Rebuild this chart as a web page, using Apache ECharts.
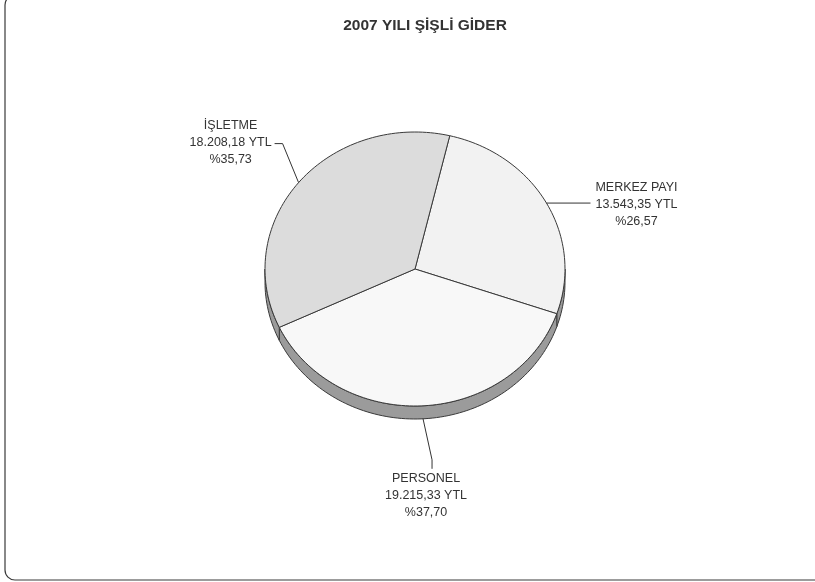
<!DOCTYPE html>
<html>
<head>
<meta charset="utf-8">
<script src="https://cdn.jsdelivr.net/npm/echarts@6/dist/echarts.min.js"></script>
<style>
  html, body { margin: 0; padding: 0; background: #ffffff; }
  #chart { width: 815px; height: 582px; }
</style>
</head>
<body>
<div id="chart"></div>
<script>
// Expense categories and amounts (YTL)
const categories = ['MERKEZ PAYI', 'PERSONEL', 'İŞLETME'];
const amounts = [13543.35, 19215.33, 18208.18];
const topColors = ['#f2f2f2', '#f8f8f8', '#dcdcdc'];

// Ellipse geometry of the tilted pie
const pie = { cx: 415, cy: 269, rx: 150, ry: 137, depth: 13, start: 13.4 };

// Leader line bends and text block offsets, relative to each slice's edge point
const labelLayout = [
  { leader: [[0, 0], [44, 0]], text: [90, 1], onSide: false },
  { leader: [[0, 0], [9, 41], [9, 50]], text: [3, 77], onSide: true },
  { leader: [[0, 0], [-16, -39], [-24, -39]], text: [-68, -40], onSide: false }
];

const total = amounts.reduce((a, b) => a + b, 0);

function trNumber(v) {
  const parts = v.toFixed(2).split('.');
  parts[0] = parts[0].replace(/\B(?=(\d{3})+(?!\d))/g, '.');
  return parts.join(',');
}

// angles measured clockwise from 12 o'clock
const slices = [];
let acc = pie.start;
amounts.forEach((v) => {
  const sweep = v / total * 360;
  slices.push([acc, acc + sweep]);
  acc += sweep;
});

function pt(a, dy) {
  const r = a * Math.PI / 180;
  return [pie.cx + pie.rx * Math.sin(r), pie.cy - pie.ry * Math.cos(r) + (dy || 0)];
}
function arc(a0, a1, dy) {
  const n = Math.max(2, Math.ceil(Math.abs(a1 - a0) / 1.5));
  const out = [];
  for (let i = 0; i <= n; i++) out.push(pt(a0 + (a1 - a0) * i / n, dy));
  return out;
}

function renderItem(params, api) {
  const i = params.dataIndex;
  const [s, e] = slices[i];
  const children = [];

  // visible front wall of the slice
  [[90, 270], [450, 630]].forEach(([lo, hi]) => {
    const a0 = Math.max(s, lo), a1 = Math.min(e, hi);
    if (a1 > a0) {
      const top = arc(a0, a1, 0);
      const bottom = arc(a0, a1, pie.depth).reverse();
      children.push({
        type: 'polygon', z2: 1,
        shape: { points: top.concat(bottom) },
        style: { fill: '#9b9b9b', stroke: '#3a3a3a', lineWidth: 1, lineJoin: 'round' }
      });
    }
  });

  // top face
  children.push({
    type: 'polygon', z2: 2,
    shape: { points: [[pie.cx, pie.cy]].concat(arc(s, e, 0)) },
    style: { fill: topColors[i], stroke: '#3a3a3a', lineWidth: 1, lineJoin: 'round' }
  });

  // leader line and label
  const lay = labelLayout[i];
  const edge = pt((s + e) / 2, lay.onSide ? pie.depth : 0);
  children.push({
    type: 'polyline', z2: 3,
    shape: { points: lay.leader.map(([dx, dy]) => [edge[0] + dx, edge[1] + dy]) },
    style: { stroke: '#333333', lineWidth: 1, fill: null }
  });
  const pct = '%' + (amounts[i] / total * 100).toFixed(2).replace('.', ',');
  children.push({
    type: 'text', z2: 4,
    x: edge[0] + lay.text[0], y: edge[1] + lay.text[1],
    style: {
      text: categories[i] + '\n' + trNumber(amounts[i]) + ' YTL\n' + pct,
      fill: '#333333',
      font: '12.5px "Liberation Sans", Arial, sans-serif',
      lineHeight: 17,
      align: 'center', verticalAlign: 'middle',
      textAlign: 'center', textVerticalAlign: 'middle'
    }
  });

  return { type: 'group', children: children };
}

const chart = echarts.init(document.getElementById('chart'), null, { renderer: 'canvas' });
chart.setOption({
  animation: false,
  backgroundColor: '#ffffff',
  title: {
    text: '2007 YILI ŞİŞLİ GİDER',
    left: 420, top: 13, textAlign: 'center',
    textStyle: { fontFamily: '"Liberation Sans", Arial, sans-serif', fontSize: 15.5, fontWeight: 'bold', color: '#333333' }
  },
  graphic: [{
    type: 'rect', silent: true,
    shape: { x: 5, y: -5, width: 830, height: 585, r: 10 },
    style: { fill: 'none', stroke: '#3a3a3a', lineWidth: 1.2 }
  }],
  series: [{
    type: 'custom',
    coordinateSystem: 'none',
    silent: true,
    data: amounts.map((v, i) => ({ name: categories[i], value: v })),
    renderItem: renderItem
  }]
});
</script>
</body>
</html>
